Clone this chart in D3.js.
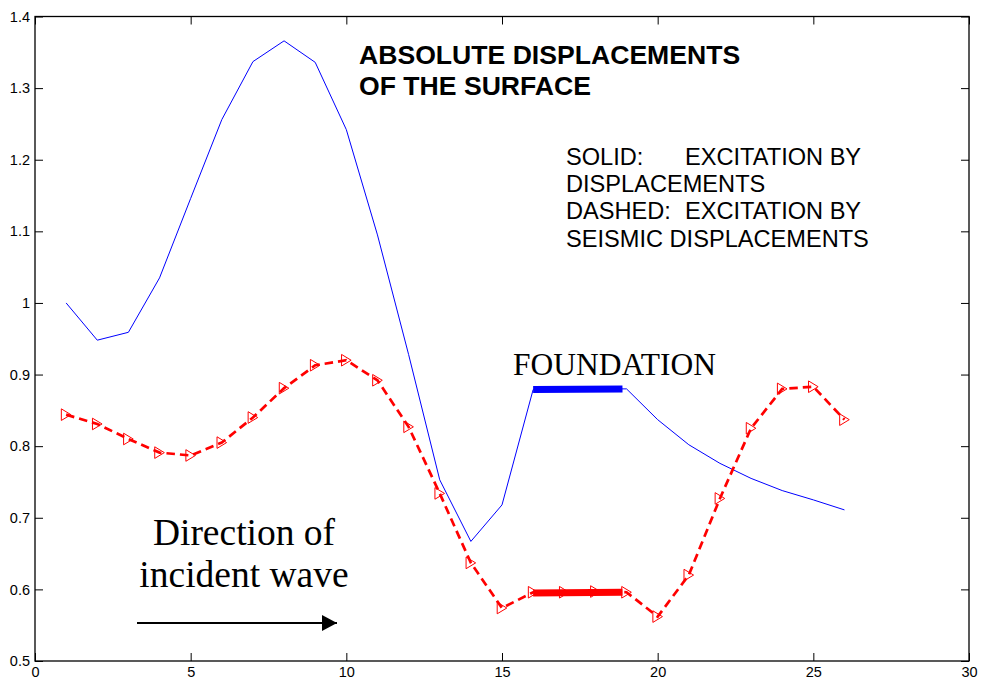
<!DOCTYPE html>
<html>
<head>
<meta charset="utf-8">
<script src="https://cdn.jsdelivr.net/npm/d3@7"></script>
<style>
  html, body { margin: 0; padding: 0; background: #fff; }
  svg { display: block; }
</style>
</head>
<body>
<svg id="chart" width="985" height="684"></svg>
<script>
// ---- data ----
const positions = [1,2,3,4,5,6,7,8,9,10,11,12,13,14,15,16,17,18,19,20,21,22,23,24,25,26];
const solidValues = [1.000,0.948,0.959,1.035,1.146,1.256,1.337,1.366,1.336,1.242,1.095,0.928,0.753,0.667,0.718,0.879,0.879,0.880,0.880,0.837,0.802,0.776,0.755,0.738,0.725,0.711];
const dashedValues = [0.844,0.831,0.810,0.791,0.787,0.805,0.840,0.881,0.913,0.920,0.892,0.827,0.734,0.637,0.574,0.596,0.596,0.597,0.596,0.562,0.620,0.727,0.825,0.880,0.883,0.837];
const foundationX = [16, 18.87];
const foundationSolid = [0.879, 0.880];
const foundationDashed = [0.595, 0.596];
const xTicks = [0,5,10,15,20,25,30];
const xTickLabels = ["0","5","10","15","20","25","30"];
const yTicks = [0.5,0.6,0.7,0.8,0.9,1.0,1.1,1.2,1.3,1.4];
const yTickLabels = ["0.5","0.6","0.7","0.8","0.9","1","1.1","1.2","1.3","1.4"];
const titleLines = ["ABSOLUTE DISPLACEMENTS","OF THE SURFACE"];
const noteLabels = ["SOLID:","DISPLACEMENTS","DASHED:","SEISMIC DISPLACEMENTS"];
const noteRight = ["EXCITATION BY","","EXCITATION BY",""];
const waveLines = ["Direction of","incident wave"];
const foundationLabel = "FOUNDATION";

// ---- layout ----
const svg = d3.select("#chart");
const L = 35, R = 969, T = 16.5, B = 661;
const x = d3.scaleLinear().domain([0,30]).range([L,R]);
const y = d3.scaleLinear().domain([0.5,1.4]).range([B,T]);
const tickFont = "'Liberation Sans', Arial, sans-serif";

// axes (MATLAB style: inward ticks, box)
const tickLen = 8;
const gx = svg.append("g").attr("transform", `translate(0,${B})`)
  .call(d3.axisBottom(x).tickValues(xTicks).tickFormat((d,i)=>xTickLabels[i]).tickSizeInner(-tickLen).tickSizeOuter(0).tickPadding(6));
const gy = svg.append("g").attr("transform", `translate(${L},0)`)
  .call(d3.axisLeft(y).tickValues(yTicks).tickFormat((d,i)=>yTickLabels[i]).tickSizeInner(-tickLen).tickSizeOuter(0).tickPadding(5));
const gxt = svg.append("g").attr("transform", `translate(0,${T})`)
  .call(d3.axisTop(x).tickValues(xTicks).tickFormat("").tickSizeInner(-tickLen).tickSizeOuter(0));
const gyr = svg.append("g").attr("transform", `translate(${R},0)`)
  .call(d3.axisRight(y).tickValues(yTicks).tickFormat("").tickSizeInner(-tickLen).tickSizeOuter(0));
[gx,gy,gxt,gyr].forEach(g=>{
  g.select(".domain").remove();
  g.selectAll("line").attr("stroke","#000").attr("stroke-width",1);
  g.selectAll("text").attr("fill","#000").style("font-family",tickFont).style("font-size","14.5px");
});
svg.append("rect").attr("x",L).attr("y",T).attr("width",R-L).attr("height",B-T)
  .attr("fill","none").attr("stroke","#000").attr("stroke-width",1.3);

const pts = (xs, ys) => xs.map((d,i)=>[d, ys[i]]);
const line = d3.line().x(d=>x(d[0])).y(d=>y(d[1]));

// solid blue
svg.append("path").datum(pts(positions, solidValues)).attr("d", line)
  .attr("fill","none").attr("stroke","#0000ff").attr("stroke-width",1);
svg.append("path").datum(pts(foundationX, foundationSolid)).attr("d", line)
  .attr("fill","none").attr("stroke","#0000ff").attr("stroke-width",7);

// dashed red
svg.append("path").datum(pts(positions, dashedValues)).attr("d", line)
  .attr("fill","none").attr("stroke","#ff0000").attr("stroke-width",2.7)
  .attr("stroke-dasharray","8.5,5");
svg.append("path").datum(pts(foundationX, foundationDashed)).attr("d", line)
  .attr("fill","none").attr("stroke","#ff0000").attr("stroke-width",7);
// right-pointing triangle markers
svg.append("g").selectAll("path").data(pts(positions, dashedValues)).join("path")
  .attr("transform", d=>`translate(${x(d[0])},${y(d[1])})`)
  .attr("d","M-4.8,-5.8L4.8,0L-4.8,5.8Z")
  .attr("fill","none").attr("stroke","#ff0000").attr("stroke-width",1);

// title
const helv = "'Liberation Sans', Arial, Helvetica, sans-serif";
svg.append("g").selectAll("text").data(titleLines).join("text")
  .attr("x",359).attr("y",(d,i)=>64+i*31)
  .style("font-family",helv).style("font-size","26.6px").style("font-weight","bold")
  .text(d=>d);

// note
svg.append("g").selectAll("text").data(noteLabels).join("text")
  .attr("x",566).attr("y",(d,i)=>165+i*27.2)
  .style("font-family",helv).style("font-size","23.6px")
  .text(d=>d);
svg.append("g").selectAll("text").data(noteRight).join("text")
  .attr("x",685).attr("y",(d,i)=>165+i*27.2)
  .style("font-family",helv).style("font-size","23.6px")
  .text(d=>d);

// foundation label
const times = "'Liberation Serif', 'Times New Roman', serif";
svg.append("text").attr("x",513).attr("y",375)
  .style("font-family",times).style("font-size","31.5px").text(foundationLabel);

// wave text
svg.append("g").selectAll("text").data(waveLines).join("text")
  .attr("x",244).attr("y",(d,i)=>545+i*42.3).attr("text-anchor","middle")
  .style("font-family",times).style("font-size","37.5px").text(d=>d);

// arrow
svg.append("defs").append("marker").attr("id","ah")
  .attr("viewBox","0 0 15 16").attr("refX",15).attr("refY",8)
  .attr("markerWidth",15).attr("markerHeight",16).attr("markerUnits","userSpaceOnUse")
  .attr("orient","auto")
  .append("path").attr("d","M0,0L15,8L0,16Z").attr("fill","#000");
svg.append("line").attr("x1",137).attr("x2",337).attr("y1",623).attr("y2",623)
  .attr("stroke","#000").attr("stroke-width",2).attr("marker-end","url(#ah)");
</script>
</body>
</html>
